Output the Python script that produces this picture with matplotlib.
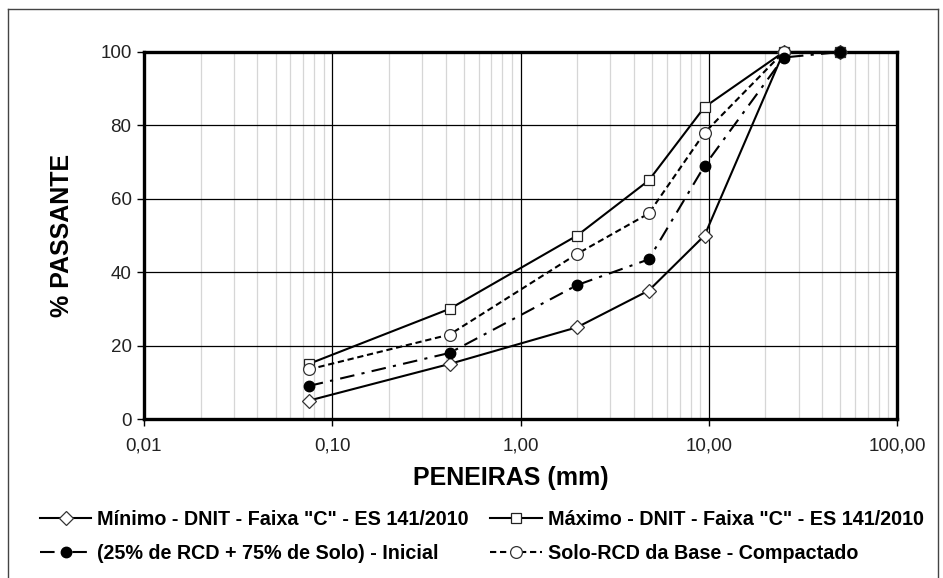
import matplotlib
matplotlib.use('Agg')
import matplotlib.pyplot as plt
from matplotlib.lines import Line2D
from matplotlib.ticker import FixedLocator, NullFormatter, LogLocator

plt.rcParams['font.family'] = ['Liberation Sans', 'DejaVu Sans']

# ---- data: sieve openings (mm) and % passing ------------------------------
peneiras = [0.075, 0.42, 2.0, 4.8, 9.5, 25.0, 50.0]
minimo = [5, 15, 25, 35, 50, 100, 100]
maximo = [15, 30, 50, 65, 85, 100, 100]
inicial = [9, 18, 36.5, 43.5, 69, 98.5, 100]
compactado = [13.5, 23, 45, 56, 78, 100, 100]

x_ticks = [0.01, 0.1, 1, 10, 100]
x_ticklabels = ['0,01', '0,10', '1,00', '10,00', '100,00']
y_ticks = [0, 20, 40, 60, 80, 100]

labels = ['Mínimo - DNIT - Faixa "C" - ES 141/2010',
          'Máximo - DNIT - Faixa "C" - ES 141/2010',
          '(25% de RCD + 75% de Solo) - Inicial',
          'Solo-RCD da Base - Compactado']

# ---- figure ---------------------------------------------------------------
fig = plt.figure(figsize=(9.43, 5.78), dpi=100)
ax = fig.add_axes([144 / 943, 1 - 419 / 578, (897 - 144) / 943, (419 - 52) / 578])

lw = 1.5
l_min, = ax.plot(peneiras, minimo, '-', color='black', lw=lw,
                 marker='D', ms=7, mfc='white', mec='#333333', mew=0.9, zorder=3)
l_max, = ax.plot(peneiras, maximo, '-', color='black', lw=lw,
                 marker='s', ms=7.5, mfc='white', mec='#222222', mew=0.9, zorder=3)
l_cmp, = ax.plot(peneiras, compactado, color='black', lw=lw, dashes=(3, 1.8),
                 marker='o', ms=8.5, mfc='white', mec='#333333', mew=0.9, zorder=4)
l_ini, = ax.plot(peneiras, inicial, color='black', lw=lw, dashes=(7, 3.5, 1.5, 3.5),
                 marker='o', ms=7.5, mfc='black', mec='black', zorder=5)
for ln in (l_min, l_max, l_cmp, l_ini):
    ln.set_clip_on(False)

ax.set_xscale('log')
ax.set_xlim(0.01, 100)
ax.set_ylim(0, 100)

ax.xaxis.set_major_locator(FixedLocator(x_ticks))
ax.set_xticklabels(x_ticklabels)
ax.xaxis.set_minor_locator(LogLocator(base=10, subs=range(2, 10)))
ax.xaxis.set_minor_formatter(NullFormatter())
ax.set_yticks(y_ticks)

ax.grid(which='major', axis='x', color='black', lw=0.9, zorder=1)
ax.grid(which='minor', axis='x', color='#d6d6d6', lw=0.9, zorder=0)
ax.grid(which='major', axis='y', color='black', lw=0.9, zorder=1)
ax.set_axisbelow(True)

for s in ax.spines.values():
    s.set_linewidth(2.4)
    s.set_color('black')

ax.tick_params(axis='both', which='major', direction='out', length=5, width=1,
               labelsize=13.5, labelcolor='#222222', pad=4)
ax.tick_params(axis='x', which='minor', length=0)
ax.tick_params(axis='x', which='major', pad=8)

ax.set_xlabel('PENEIRAS (mm)', fontsize=18, fontweight='bold', va='center')
ax.xaxis.set_label_coords(0.487, -0.161)
ax.set_ylabel('% PASSANTE', fontsize=18, fontweight='bold', labelpad=19)

# legend below the plot, two columns
leg = fig.legend([l_min, l_ini, l_max, l_cmp],
                 [labels[0], labels[2], labels[1], labels[3]],
                 ncol=2, loc='upper left', bbox_to_anchor=(40 / 943, 1 - 510 / 578),
                 frameon=False, borderpad=0, borderaxespad=0,
                 handlelength=2.6, handletextpad=0.3, columnspacing=1.1,
                 labelspacing=0.75,
                 prop={'weight': 'bold', 'size': 14.2})

# outer frame
for xs, ys in [((8 / 943, 8 / 943), (0, 1 - 9 / 578)),
               ((8 / 943, 938 / 943), (1 - 9 / 578, 1 - 9 / 578)),
               ((938 / 943, 938 / 943), (0, 1 - 9 / 578))]:
    fig.add_artist(Line2D(xs, ys, color='#444444', lw=1.0, transform=fig.transFigure))

fig.savefig('out.png', dpi=100)
